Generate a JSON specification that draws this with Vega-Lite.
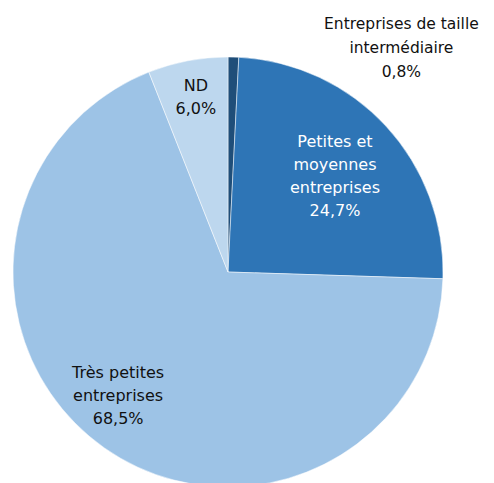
{
  "$schema": "https://vega.github.io/schema/vega-lite/v6.json",
  "width": 456,
  "height": 544,
  "padding": {"left": 0, "top": 0, "right": 38, "bottom": 0},
  "autosize": {"type": "none"},
  "background": "white",
  "view": {"stroke": null},
  "data": {
    "values": [
      {"order": 1, "category": "ETI", "label": "Entreprises de taille\nintermédiaire\n0,8%", "value": 0.8},
      {"order": 2, "category": "PME", "label": "Petites et\nmoyennes\nentreprises\n24,7%", "value": 24.7},
      {"order": 3, "category": "TPE", "label": "Très petites\nentreprises\n68,5%", "value": 68.5},
      {"order": 4, "category": "ND", "label": "ND\n6,0%", "value": 6.0}
    ]
  },
  "encoding": {
    "theta": {"field": "value", "type": "quantitative", "stack": true},
    "order": {"field": "order", "type": "quantitative"}
  },
  "layer": [
    {
      "mark": {"type": "arc", "outerRadius": 215, "stroke": "white", "strokeWidth": 0.5},
      "encoding": {
        "color": {
          "field": "category",
          "type": "nominal",
          "scale": {"domain": ["ETI", "PME", "TPE", "ND"], "range": ["#1F4E79", "#2E75B6", "#9DC3E6", "#BDD7EE"]},
          "legend": null
        }
      }
    },
    {
      "mark": {"type": "text", "radius": 140, "dx": 4, "dy": -35, "lineBreak": "\n", "lineHeight": 23, "font": "DejaVu Sans", "fontSize": 16, "fill": "white", "align": "center", "baseline": "middle"},
      "encoding": {"text": {"condition": {"test": "datum.category == 'PME'", "field": "label"}, "value": ""}}
    },
    {
      "mark": {"type": "text", "radius": 165, "dx": -15, "dy": -34, "lineBreak": "\n", "lineHeight": 23, "font": "DejaVu Sans", "fontSize": 16, "fill": "#111111", "align": "center", "baseline": "middle"},
      "encoding": {"text": {"condition": {"test": "datum.category == 'TPE'", "field": "label"}, "value": ""}}
    },
    {
      "mark": {"type": "text", "radius": 182, "dx": 2, "dy": -7, "lineBreak": "\n", "lineHeight": 23, "font": "DejaVu Sans", "fontSize": 16, "fill": "#111111", "align": "center", "baseline": "middle"},
      "encoding": {"text": {"condition": {"test": "datum.category == 'ND'", "field": "label"}, "value": ""}}
    },
    {
      "mark": {"type": "text", "radius": 215, "dx": 168, "dy": -33, "lineBreak": "\n", "lineHeight": 24, "font": "DejaVu Sans", "fontSize": 15.5, "fill": "#111111", "align": "center", "baseline": "middle"},
      "encoding": {"text": {"condition": {"test": "datum.category == 'ETI'", "field": "label"}, "value": ""}}
    }
  ]
}
